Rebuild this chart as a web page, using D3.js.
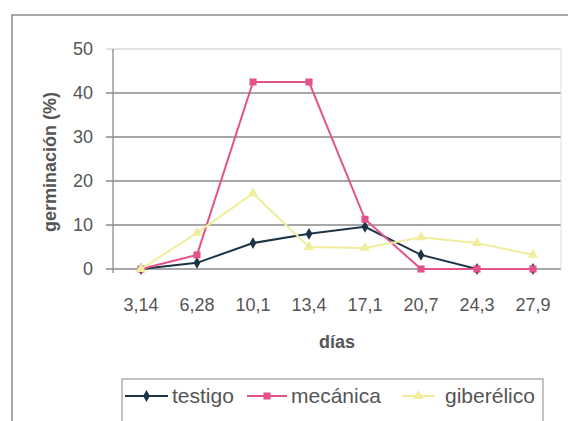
<!DOCTYPE html>
<html lang="es">
<head>
<meta charset="UTF-8">
<title>germinación</title>
<script src="https://cdn.jsdelivr.net/npm/d3@7/dist/d3.min.js"></script>
<style>
  body { margin: 0; background: #fff; }
  text { font-family: "Liberation Sans", Arial, sans-serif; fill: #555; }
  .grid line { stroke: #8a8a8a; stroke-width: 1.3; }
  .bold { font-weight: bold; }
</style>
</head>
<body>
<svg></svg>
<script>
var dias = ["3,14", "6,28", "10,1", "13,4", "17,1", "20,7", "24,3", "27,9"];
var testigo = [0, 1.4, 5.9, 8.0, 9.6, 3.2, 0, 0];
var mecanica = [0, 3.2, 42.5, 42.5, 11.3, 0, 0, 0];
var giberelico = [0, 8.2, 17.2, 5, 4.8, 7.2, 5.9, 3.2];
var yTicks = [0, 10, 20, 30, 40, 50];

var series = [
  {name: "testigo", values: testigo, color: "#1d3446", shape: "diamond"},
  {name: "mecánica", values: mecanica, color: "#e2538a", shape: "square"},
  {name: "giberélico", values: giberelico, color: "#f0ee9c", shape: "triangle"}
];

var W = 568, H = 421;
var svg = d3.select("svg").attr("width", W).attr("height", H);

// outer chart frame
svg.append("rect").attr("x", 12).attr("y", 15).attr("width", 570).attr("height", 420)
  .attr("fill", "none").attr("stroke", "#8c8c8c").attr("stroke-width", 1.5);

var x = d3.scaleBand().domain(dias).range([113, 561]);
var y = d3.scaleLinear().domain([0, 50]).range([269, 49]);

// gridlines
var grid = svg.append("g").attr("class", "grid");
grid.selectAll("line").data(yTicks).enter().append("line")
  .attr("x1", 106).attr("x2", 561)
  .attr("y1", d => y(d)).attr("y2", d => y(d))
  .style("stroke", d => d == 50 ? "#d8d8d8" : null);

// plot right edge + y axis line
svg.append("line").attr("x1", 561).attr("x2", 561).attr("y1", y(50)).attr("y2", y(0))
  .attr("stroke", "#dddddd");
svg.append("line").attr("x1", 113).attr("x2", 113).attr("y1", y(50)).attr("y2", y(0) + 4)
  .attr("stroke", "#8a8a8a").attr("stroke-width", 1.3);

// y tick labels
svg.append("g").selectAll("text").data(yTicks).enter().append("text")
  .attr("x", 93).attr("y", d => y(d)).attr("dy", "0.35em")
  .attr("text-anchor", "end").style("font-size", "18px")
  .text(d => d);

// x tick labels
svg.append("g").selectAll("text").data(dias).enter().append("text")
  .attr("x", d => x(d) + x.bandwidth() / 2).attr("y", 311)
  .attr("text-anchor", "middle").style("font-size", "18px")
  .text(d => d);

svg.append("text").attr("class", "bold").attr("x", 337).attr("y", 348)
  .attr("text-anchor", "middle").style("font-size", "18px").text("días");

svg.append("text").attr("class", "bold")
  .attr("transform", "translate(56,162) rotate(-90)")
  .attr("text-anchor", "middle").style("font-size", "18px").text("germinación (%)");

function marker(sel, shape, color) {
  if (shape == "diamond") {
    sel.append("path").attr("d", d3.symbol(d3.symbolDiamond, 40)()).attr("fill", color);
  } else if (shape == "square") {
    sel.append("path").attr("d", d3.symbol(d3.symbolSquare, 50)()).attr("fill", color);
  } else {
    sel.append("path").attr("d", d3.symbol(d3.symbolTriangle, 45)()).attr("fill", color);
  }
}

var line = d3.line()
  .x((d, i) => x(dias[i]) + x.bandwidth() / 2)
  .y(d => y(d));

series.forEach(function(s) {
  svg.append("path").datum(s.values).attr("d", line)
    .attr("fill", "none").attr("stroke", s.color).attr("stroke-width", 2);
  s.values.forEach(function(v, i) {
    var g = svg.append("g")
      .attr("transform", "translate(" + (x(dias[i]) + x.bandwidth() / 2) + "," + y(v) + ")");
    marker(g, s.shape, s.color);
  });
});

// legend
var leg = svg.append("g");
leg.append("rect").attr("x", 122).attr("y", 379).attr("width", 421).attr("height", 50)
  .attr("fill", "#fff").attr("stroke", "#9a9a9a").attr("stroke-width", 1.2);
var legX = [125, 247, 402];
var legW = [43, 40, 33];
series.forEach(function(s, i) {
  var g = leg.append("g").attr("transform", "translate(" + legX[i] + ",396)");
  g.append("line").attr("x1", 0).attr("x2", legW[i]).attr("stroke", s.color).attr("stroke-width", 2);
  var m = g.append("g").attr("transform", "translate(" + legW[i] / 2 + ",0)");
  marker(m, s.shape, s.color);
  g.append("text").attr("x", legW[i] + (i == 2 ? 10 : 4)).attr("y", 0).attr("dy", "0.35em")
    .style("font-size", "21px").text(s.name);
});
</script>
</body>
</html>
